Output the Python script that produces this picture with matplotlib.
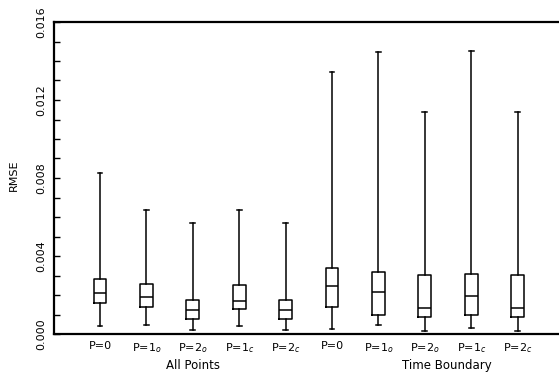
import matplotlib
matplotlib.use("Agg")
import matplotlib.pyplot as plt
import matplotlib.transforms as mtransforms
from matplotlib.ticker import MultipleLocator

# box statistics (RMSE)
labels = ["P=0", "P=1$_o$", "P=2$_o$", "P=1$_c$", "P=2$_c$",
          "P=0", "P=1$_o$", "P=2$_o$", "P=1$_c$", "P=2$_c$"]
whis_lo = [0.00041, 0.00046, 0.00021, 0.00041, 0.00021,
           0.00027, 0.00046, 0.00014, 0.00032, 0.00014]
q1 = [0.00161, 0.00137, 0.00079, 0.00128, 0.00079,
      0.00137, 0.00097, 0.00089, 0.00097, 0.00089]
med = [0.00212, 0.00191, 0.00121, 0.00168, 0.00123,
       0.00246, 0.00217, 0.00135, 0.00193, 0.00135]
q3 = [0.00281, 0.00258, 0.00174, 0.00250, 0.00174,
      0.00337, 0.00316, 0.00304, 0.00308, 0.00304]
whis_hi = [0.00824, 0.00636, 0.00571, 0.00636, 0.00571,
           0.01344, 0.01445, 0.01138, 0.01450, 0.01138]
groups = ["All Points", "Time Boundary"]
group_x = [3, 8.47]

positions = list(range(1, len(labels) + 1))
stats = []
for i in range(len(labels)):
    stats.append(dict(med=med[i], q1=q1[i], q3=q3[i], whislo=whis_lo[i],
                      whishi=whis_hi[i], fliers=[]))

fig = plt.figure(figsize=(5.59, 3.85), dpi=100)
ax = fig.add_axes([53.6 / 559, 51 / 385, 510.4 / 559, 312 / 385])

line = dict(color="black", linewidth=1.1)
ax.bxp(stats, positions=positions, widths=0.28, capwidths=0.1,
       showfliers=False, boxprops=line, whiskerprops=line, capprops=line,
       medianprops=line)

ax.set_xlim(0, 11)
ax.set_ylim(0, 0.016)
ax.yaxis.set_major_locator(MultipleLocator(0.004))
ax.yaxis.set_minor_locator(MultipleLocator(0.001))
ax.set_yticklabels([f"{v:.3f}" for v in ax.get_yticks()], rotation=90, va="center")
ax.tick_params(axis="y", which="both", direction="in", length=4.5, width=1, labelsize=8, pad=5)
ax.set_xticks(positions)
ax.set_xticklabels(labels)
ax.tick_params(axis="x", length=0, labelsize=8, pad=5)
ax.set_ylabel("RMSE", fontsize=8, labelpad=8)
ax.yaxis.set_label_coords(-0.068, 0.51)

for s in ["left", "bottom", "top"]:
    ax.spines[s].set_linewidth(1.6)
ax.spines["right"].set_visible(False)

trans = mtransforms.blended_transform_factory(ax.transData, ax.transAxes)
for name, gx in zip(groups, group_x):
    ax.text(gx, -0.1, name, transform=trans, ha="center", va="center", fontsize=8.5)

fig.savefig("out.png", dpi=100)
